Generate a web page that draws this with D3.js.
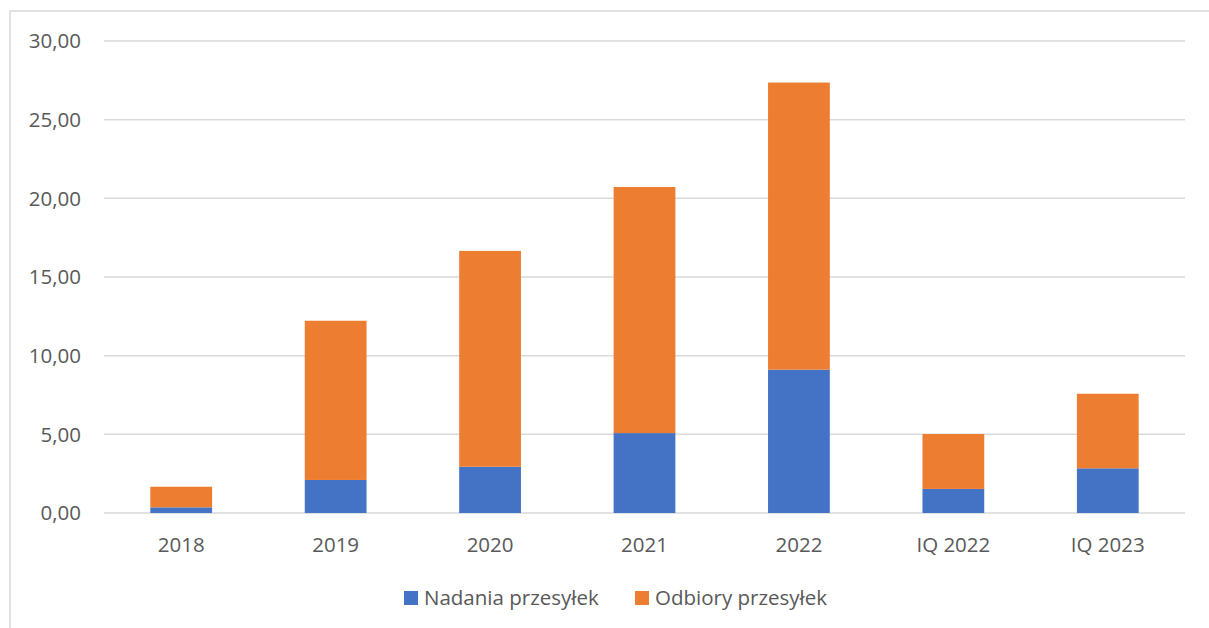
<!DOCTYPE html>
<html>
<head>
<meta charset="utf-8">
<script src="https://cdn.jsdelivr.net/npm/d3@7"></script>
<style>
  body { margin: 0; background: #fff; }
  svg text { font-family: "Open Sans", sans-serif; fill: #595959; }
</style>
</head>
<body>
<svg id="chart" width="1209" height="628"></svg>
<script>
// Data
var categories = ['2018', '2019', '2020', '2021', '2022', 'IQ 2022', 'IQ 2023'];
var nadania = [0.36, 2.10, 2.94, 5.08, 9.11, 1.53, 2.84];
var odbiory = [1.31, 10.12, 13.72, 15.64, 18.25, 3.49, 4.74];
var yTicks = [0, 5, 10, 15, 20, 25, 30];
var seriesNames = ['Nadania przesyłek', 'Odbiory przesyłek'];
var colors = ['#4472c4', '#ed7d31'];

var svg = d3.select('#chart');

// outer chart border (runs off the right/bottom edge)
svg.append('rect')
  .attr('x', 10).attr('y', 11)
  .attr('width', 1220).attr('height', 640)
  .attr('fill', 'none')
  .attr('stroke', '#d9d9d9')
  .attr('stroke-width', 1.5);

var x = d3.scaleBand().domain(categories).range([104, 1185])
  .paddingInner(0.6).paddingOuter(0.3);
var y = d3.scaleLinear().domain([0, 30]).range([513, 41]);

// gridlines
svg.selectAll('line.grid').data(yTicks).enter()
  .append('line')
  .attr('class', 'grid')
  .attr('x1', 104).attr('x2', 1185)
  .attr('y1', function(d) { return y(d); })
  .attr('y2', function(d) { return y(d); })
  .attr('stroke', '#d9d9d9')
  .attr('stroke-width', 1.5);

// y tick labels
svg.selectAll('text.ytick').data(yTicks).enter()
  .append('text')
  .attr('class', 'ytick')
  .attr('x', 81)
  .attr('y', function(d) { return y(d); })
  .attr('dy', '0.35em')
  .attr('text-anchor', 'end')
  .style('font-size', '20.5px')
  .text(function(d) { return d.toFixed(2).replace('.', ','); });

// stacked data
var rows = categories.map(function(c, i) {
  return {cat: c, nadania: nadania[i], odbiory: odbiory[i]};
});
var stack = d3.stack().keys(['nadania', 'odbiory'])(rows);

svg.selectAll('g.series').data(stack).enter()
  .append('g')
  .attr('class', 'series')
  .attr('fill', function(d, i) { return colors[i]; })
  .selectAll('rect').data(function(d) { return d; }).enter()
  .append('rect')
  .attr('x', function(d) { return x(d.data.cat); })
  .attr('width', x.bandwidth())
  .attr('y', function(d) { return y(d[1]); })
  .attr('height', function(d) { return y(d[0]) - y(d[1]); });

// category labels
svg.selectAll('text.xtick').data(categories).enter()
  .append('text')
  .attr('class', 'xtick')
  .attr('x', function(d) { return x(d) + x.bandwidth() / 2; })
  .attr('y', 552)
  .attr('text-anchor', 'middle')
  .style('font-size', '20.5px')
  .text(function(d) { return d; });

// legend
var legendX = [404, 635];
var legend = svg.selectAll('g.legend').data(seriesNames).enter()
  .append('g')
  .attr('class', 'legend')
  .attr('transform', function(d, i) { return 'translate(' + legendX[i] + ',591)'; });
legend.append('rect')
  .attr('width', 14).attr('height', 14)
  .attr('fill', function(d, i) { return colors[i]; });
legend.append('text')
  .attr('x', 20).attr('y', 14)
  .style('font-size', '20.5px')
  .text(function(d) { return d; });
</script>
</body>
</html>
